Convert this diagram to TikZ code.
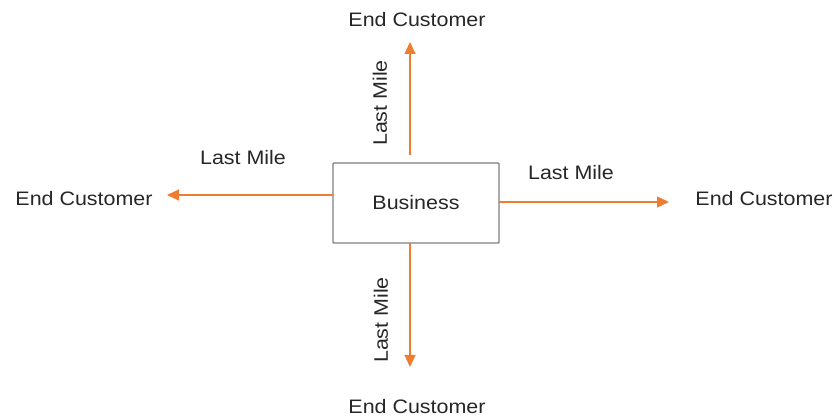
\documentclass[tikz,border=0pt]{standalone}
\usepackage{fontspec}
\setmainfont[FakeStretch=1.1]{Liberation Sans}
\usetikzlibrary{arrows.meta}
\definecolor{edge}{HTML}{ED7D31}
\definecolor{frame}{HTML}{7F7F7F}
\begin{document}
\begin{tikzpicture}[x=1pt,y=-1pt,
  lbl/.style={font=\fontsize{19.5}{23}\selectfont, text=black!85, inner sep=0pt},
  boxnode/.style={draw=frame, line width=1.4pt, fill=white, minimum width=166pt, minimum height=80pt, inner sep=0pt, rounded corners=0.8pt},
  flow/.style={draw=edge, line width=1.3pt, -{Triangle[length=12pt,width=11pt]}}]
  \useasboundingbox (0,0) rectangle (838,419);

  % central node
  \node[boxnode, lbl] (biz) at (416,203) {Business};

  % customers on all four sides
  \node[lbl] (cTop) at (417,20) {End Customer};
  \node[lbl] (cBot) at (417,407) {End Customer};
  \node[lbl] (cLeft) at (84,199) {End Customer};
  \node[lbl] (cRight) at (764,199) {End Customer};

  % arrow end points
  \coordinate (tStart) at (410,155);
  \coordinate (tEnd) at (410,42);
  \coordinate (bStart) at (410,243);
  \coordinate (bEnd) at (410,367);
  \coordinate (lStart) at (333,195);
  \coordinate (lEnd) at (167,195);
  \coordinate (rStart) at (499,202);
  \coordinate (rEnd) at (669,202);

  \draw[flow] (tStart) -- (tEnd);
  \draw[flow] (bStart) -- (bEnd);
  \draw[flow] (lStart) -- (lEnd);
  \draw[flow] (rStart) -- (rEnd);

  % connector labels
  \node[lbl, rotate=90] (mTop) at (380,103) {Last Mile};
  \node[lbl, rotate=90] (mBot) at (381,320) {Last Mile};
  \node[lbl] (mLeft) at (243,158) {Last Mile};
  \node[lbl] (mRight) at (571,173) {Last Mile};
\end{tikzpicture}
\end{document}
